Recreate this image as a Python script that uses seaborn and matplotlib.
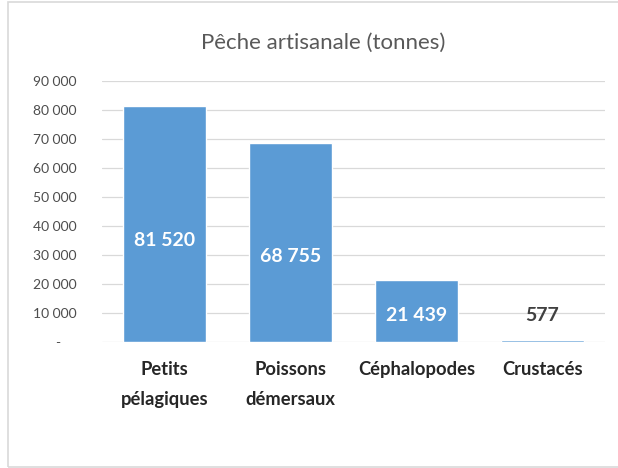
import matplotlib
matplotlib.use("Agg")
import matplotlib.pyplot as plt
from matplotlib.patches import Rectangle
from matplotlib.transforms import ScaledTranslation
import seaborn as sns

# donnees : peche artisanale (tonnes)
categories = ["Petits\npélagiques", "Poissons\ndémersaux", "Céphalopodes", "Crustacés"]
tonnes = [81520, 68755, 21439, 577]
yticks = [0, 10000, 20000, 30000, 40000, 50000, 60000, 70000, 80000, 90000]

sns.set_style("white")
plt.rcParams['font.family'] = ['Lato', 'DejaVu Sans']

fig = plt.figure(figsize=(6.18, 4.68), dpi=100)
ax = fig.add_axes([0.1647, 0.2692, 0.8144, 0.5577])

sns.barplot(x=categories, y=tonnes, color="#5B9BD5", saturation=1, width=0.66, ax=ax, zorder=3)

ax.set_ylim(0, 90000)
ax.set_yticks(yticks)
ax.set_yticklabels(["-" if t == 0 else f"{t:,}".replace(",", " ") for t in yticks])
ax.yaxis.grid(True, color="#D9D9D9", linewidth=0.9, zorder=0)
ax.set_axisbelow(True)
for s in ax.spines.values():
    s.set_visible(False)
ax.tick_params(axis="both", length=0)
ax.tick_params(axis="y", pad=18, labelsize=10, labelcolor="#4D4D4D")
ax.tick_params(axis="x", pad=14, labelsize=13.2, labelcolor="#262626")
for lbl in ax.get_xticklabels():
    lbl.set_fontweight("bold")
    lbl.set_linespacing(1.9)
# le "-" du zero est decale a gauche comme dans Excel
zero_lbl = ax.get_yticklabels()[0]
zero_lbl.set_transform(zero_lbl.get_transform() + ScaledTranslation(-0.17, 0, fig.dpi_scale_trans))
ax.set_xlabel("")
ax.set_ylabel("")

for i, v in enumerate(tonnes):
    txt = f"{v:,}".replace(",", " ")
    if v > 5000:
        ax.text(i, v * 0.43, txt, ha="center", va="center", color="white",
                fontsize=14, fontweight="bold", zorder=4)
    else:
        ax.annotate(txt, (i, v), xytext=(0, 12), textcoords="offset points",
                    ha="center", va="bottom", color="#404040",
                    fontsize=14, fontweight="bold", zorder=4)

fig.text(323 / 618, 1 - 43 / 468, "Pêche artisanale (tonnes)", ha="center", va="center",
         fontsize=16, color="#595959")

# cadre du graphique
fig.patches.append(Rectangle((8 / 618, 1 / 468), 1.0, 1 - 3 / 468, transform=fig.transFigure,
                             fill=False, edgecolor="#D9D9D9", linewidth=1.2))

fig.savefig("out.png", dpi=100)
